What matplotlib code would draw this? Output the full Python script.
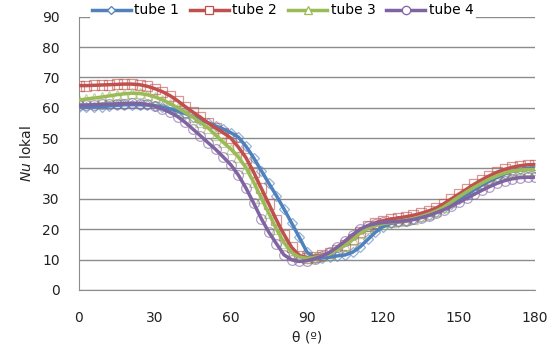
import numpy as np
import matplotlib
matplotlib.use('Agg')
import matplotlib.pyplot as plt
from matplotlib.lines import Line2D

plt.rcParams['font.family'] = ['DejaVu Sans']
plt.rcParams['mathtext.fontset'] = 'dejavusans'

theta = list(range(0, 181, 3))

tube1 = [60.3, 60.2, 60.3, 60.4, 60.6, 60.8, 61.0, 61.0, 61.0, 60.9, 60.7,
         60.2, 59.6, 58.9, 58.1, 57.1, 56.1, 55.1, 54.0, 53.0, 51.8,
         50.3, 47.3, 43.5, 39.3, 35.1, 31.0, 26.6, 22.0, 17.3, 12.5,
         10.6, 10.5, 10.8, 11.2, 11.5, 12.4, 14.2, 16.6, 19.0, 20.8,
         21.9, 22.5, 22.8, 23.3, 24.0, 24.8, 25.8, 27.0, 28.4, 29.9,
         31.4, 33.0, 34.5, 35.9, 37.1, 38.2, 39.1, 39.7, 40.0, 40.1]
tube2 = [67.3, 67.3, 67.4, 67.5, 67.6, 67.7, 67.8, 67.8, 67.6, 67.1, 66.3,
         65.3, 64.0, 62.3, 60.4, 58.6, 56.8, 55.0, 53.4, 51.8, 50.0,
         47.0, 43.5, 38.8, 33.5, 28.3, 23.0, 18.2, 14.0, 11.3, 10.6,
         10.9, 11.4, 12.1, 13.3, 14.8, 16.8, 19.2, 21.0, 22.1, 22.8,
         23.3, 23.7, 24.1, 24.6, 25.2, 26.0, 27.0, 28.4, 30.0, 31.6,
         33.2, 34.8, 36.3, 37.6, 38.8, 39.7, 40.4, 40.9, 41.2, 41.3]
tube3 = [62.5, 62.9, 63.2, 63.5, 63.9, 64.3, 64.6, 64.8, 64.7, 64.3, 63.6,
         62.6, 61.4, 60.0, 58.5, 56.9, 55.2, 53.4, 51.0, 48.6, 46.4,
         43.7, 40.2, 35.5, 30.3, 25.2, 20.0, 15.5, 12.3, 10.8, 10.4,
         10.7, 11.2, 12.0, 13.2, 14.6, 16.5, 18.7, 20.3, 21.2, 21.8,
         22.2, 22.6, 23.0, 23.5, 24.2, 25.0, 26.0, 27.3, 29.0, 30.7,
         32.3, 33.8, 35.2, 36.5, 37.6, 38.5, 39.1, 39.5, 39.6, 39.6]
tube4 = [60.8, 60.9, 61.0, 61.1, 61.2, 61.3, 61.4, 61.5, 61.4, 61.1, 60.5,
         59.6, 58.5, 57.1, 55.2, 53.0, 50.8, 48.5, 46.3, 43.8, 41.2,
         37.8, 33.5, 28.6, 23.5, 19.0, 15.2, 11.5, 9.9, 9.4, 9.6,
         10.3, 11.1, 12.4, 14.1, 16.1, 18.2, 20.0, 21.2, 21.8, 22.2,
         22.4, 22.6, 22.8, 23.2, 23.8, 24.5, 25.4, 26.4, 27.6, 28.9,
         30.2, 31.5, 32.8, 34.0, 35.1, 36.0, 36.6, 37.0, 37.1, 37.1]

labels = ['tube 1', 'tube 2', 'tube 3', 'tube 4']
series = [tube1, tube2, tube3, tube4]
colors = ['#4F81BD', '#C0504D', '#9BBB59', '#8064A2']
markers = ['D', 's', '^', 'o']
msizes = [5, 7, 6.5, 7]

fig = plt.figure(figsize=(5.58, 3.48), dpi=100)
ax = fig.add_axes([0.141, 0.167, 0.818, 0.785])

handles = []
for vals, lab, c, m, ms in zip(series, labels, colors, markers, msizes):
    # light hollow markers under a thick smooth line, like the excel chart
    ax.plot(theta, vals, ls='none', marker=m, ms=ms, mfc='none', mec=c,
            mew=0.9, alpha=0.6, zorder=2)
    ax.plot(theta, vals, color=c, lw=2.5, zorder=3, solid_capstyle='round')
    handles.append(Line2D([], [], color=c, lw=2.5, marker=m, ms=ms - 1,
                          mfc='white', mec=c, mew=0.9, label=lab))

ax.set_xlim(0, 180)
ax.set_ylim(0, 90)
ax.set_xticks(range(0, 181, 30))
ax.set_yticks(range(0, 91, 10))
ax.yaxis.grid(True, color='#8C8C8C', lw=1)
ax.set_axisbelow(True)
for s in ['top', 'right']:
    ax.spines[s].set_visible(False)
ax.spines['left'].set_color('#8C8C8C')
ax.spines['bottom'].set_color('#8C8C8C')
ax.tick_params(axis='both', length=0, labelsize=10, colors='#222222')
ax.tick_params(axis='y', pad=13.5)
ax.tick_params(axis='x', pad=15.5)

ax.set_xlabel('θ (º)', fontsize=10, color='#222222', labelpad=4)
ax.set_ylabel(r'$\mathit{Nu}$ lokal', fontsize=10, color='#222222', labelpad=6)

leg = fig.legend(handles=handles, loc='upper left', bbox_to_anchor=(0.158, 1.0),
                 ncol=4, frameon=True, fontsize=10, handlelength=2.8,
                 handletextpad=0.25, columnspacing=0.8, borderpad=0.15,
                 borderaxespad=0.1)
leg.get_frame().set_edgecolor('none')
leg.get_frame().set_facecolor('white')
leg.get_frame().set_alpha(1)

fig.savefig('out.png', dpi=100)
